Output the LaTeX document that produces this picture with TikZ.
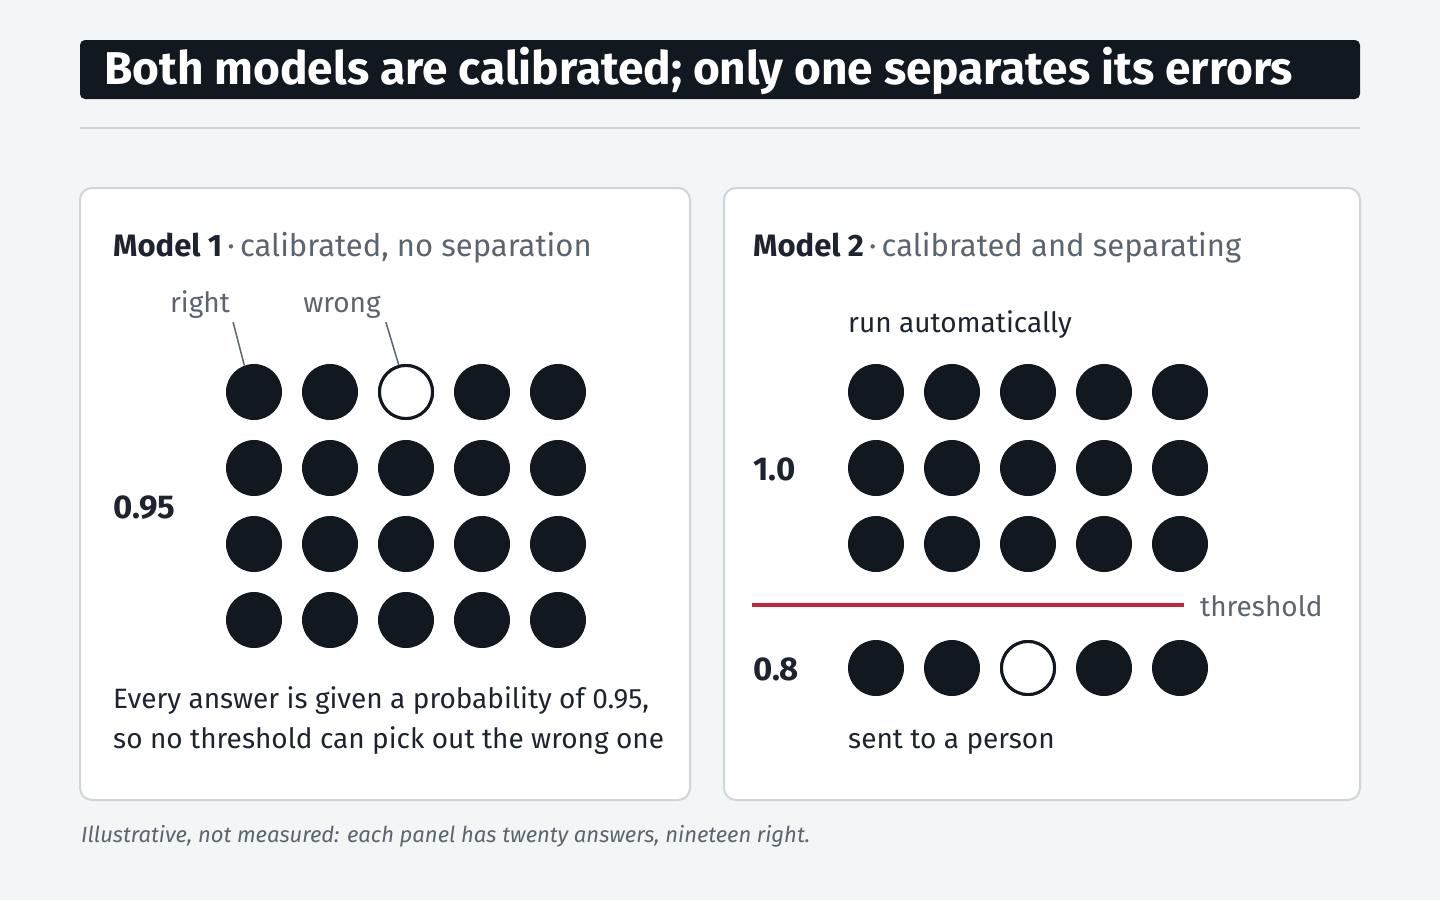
\documentclass[tikz,border=0pt]{standalone}
\usepackage{fontspec}
\usetikzlibrary{calc}
\setmainfont{Fira Sans}
\definecolor{bg}{HTML}{F3F6F7}
\definecolor{ink}{HTML}{121820}
\definecolor{txt}{HTML}{1D2430}
\definecolor{mute}{HTML}{5B6570}
\definecolor{rule}{HTML}{D0D5DA}
\definecolor{redline}{HTML}{C8243C}
\newcommand{\fs}[1]{\fontsize{#1}{#1}\selectfont}
\tikzset{
  dot/.style={circle, fill=ink, minimum size=56pt, inner sep=0pt},
  wrongdot/.style={circle, draw=ink, line width=3pt, fill=white, minimum size=53pt, inner sep=0pt},
  panel/.style={draw=rule, line width=2pt, fill=white, rounded corners=12pt},
  lbl/.style={inner sep=0pt, anchor=base west},
  leader/.style={draw=mute, line width=1.5pt},
}
\begin{document}
\begin{tikzpicture}[x=1pt,y=-1pt]
\useasboundingbox (0,0) rectangle (1440,900);
\fill[bg] (0,0) rectangle (1440,900);
% title
\fill[ink, rounded corners=5pt] (80,40) rectangle (1360,99);
\node[lbl, text=white, font=\fs{46}\bfseries] (title) at (104,84) {Both models are calibrated; only one separates its errors};
\draw[rule, line width=2pt] (80,128) -- (1360,128);
% panels
\path[panel] (80,188) rectangle (690,800);
\path[panel] (724,188) rectangle (1360,800);
% panel 1
\node[lbl, font=\fs{31}] (h1) at (113,256) {\textcolor{txt}{\bfseries Model 1}\textcolor{mute}{\,·\,calibrated, no separation}};
\node[inner sep=0pt, text=mute, font=\fs{28}, anchor=base] (lright) at (200,312) {right};
\node[inner sep=0pt, text=mute, font=\fs{28}, anchor=base] (lwrong) at (342,312) {wrong};
\foreach \r/\y in {1/392,2/468,3/544,4/620}{
  \foreach \c/\x in {1/254,2/330,3/406,4/482,5/558}{
    \node[dot] (a\r\c) at (\x,\y) {};
  }
}
\node[wrongdot] (a13) at (406,392) {};
\draw[leader] ($(lright.south east)+(3,4)$) -- (a11.110);
\draw[leader] ($(lwrong.south east)+(5,4)$) -- (a13.105);
\node[lbl, text=txt, font=\fs{33}\bfseries] (p95) at (113,518) {0.95};
\node[lbl, text=txt, font=\fs{28}, align=left] (cap1) at (113,708) {Every answer is given a probability of 0.95,};
\node[lbl, text=txt, font=\fs{28}, align=left] (cap2) at (113,748) {so no threshold can pick out the wrong one};
% panel 2
\node[lbl, font=\fs{31}] (h2) at (753,256) {\textcolor{txt}{\bfseries Model 2}\textcolor{mute}{\,·\,calibrated and separating}};
\node[lbl, text=txt, font=\fs{28}] (run) at (848,332) {run automatically};
\foreach \r/\y in {1/392,2/468,3/544}{
  \foreach \c/\x in {1/876,2/952,3/1028,4/1104,5/1180}{
    \node[dot] (b\r\c) at (\x,\y) {};
  }
}
\node[lbl, text=txt, font=\fs{33}\bfseries] (p10) at (753,480) {1.0};
\coordinate (t0) at (752,605);
\node[inner sep=0pt, anchor=west, text=mute, font=\fs{28}] (thr) at (1200,606) {threshold};
\draw[redline, line width=4pt] (t0) -- (t0 -| 1184,0);
\foreach \c/\x in {1/876,2/952,3/1028,4/1104,5/1180}{
  \node[dot] (c\c) at (\x,668) {};
}
\node[wrongdot] (c3) at (1028,668) {};
\node[lbl, text=txt, font=\fs{33}\bfseries] (p08) at (753,680) {0.8};
\node[lbl, text=txt, font=\fs{28}] (sent) at (848,748) {sent to a person};
% footer
\node[lbl, text=mute, font=\fs{22}\itshape] (foot) at (81,842) {Illustrative, not measured: each panel has twenty answers, nineteen right.};
\end{tikzpicture}
\end{document}
